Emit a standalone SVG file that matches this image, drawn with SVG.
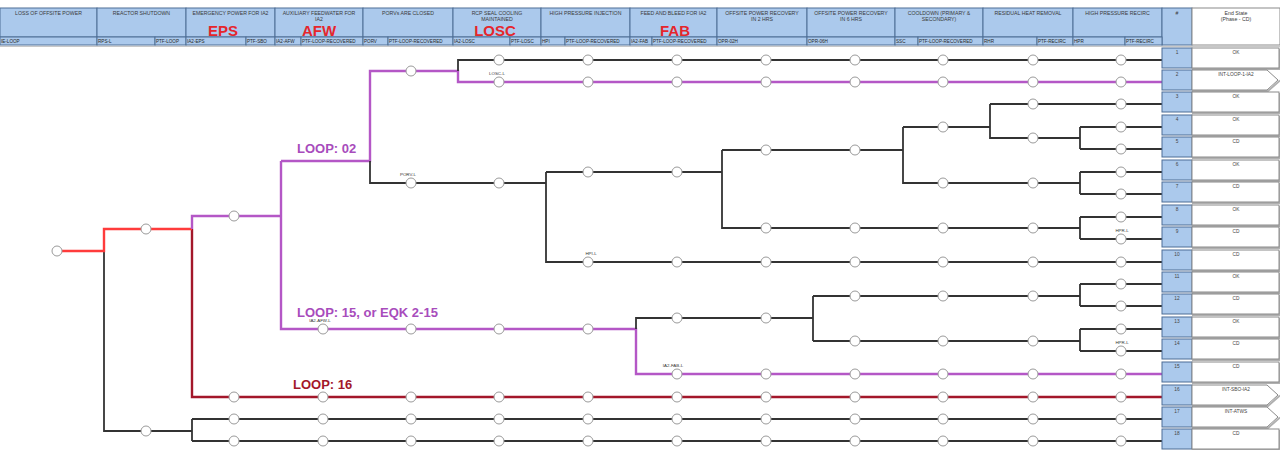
<svg xmlns="http://www.w3.org/2000/svg" width="1280" height="450" viewBox="0 0 1280 450">
<style>
.hd{fill:#abc9ec;stroke:#4f6f96;stroke-width:1}
.ht{font-family:"Liberation Sans",Arial,sans-serif;font-size:5.2px;fill:#3a3a3a;text-anchor:middle}
.hs{font-family:"Liberation Sans",Arial,sans-serif;font-size:4.6px;fill:#2a2a2a}
.big{font-family:"Liberation Sans",Arial,sans-serif;font-size:15px;font-weight:bold;fill:#e5262c;text-anchor:middle}
.k{fill:none;stroke:#333;stroke-width:1.8}
.r{fill:none;stroke:#ff3b3b;stroke-width:2.4}
.m{fill:none;stroke:#b457c6;stroke-width:2.4}
.d{fill:none;stroke:#a3172a;stroke-width:2.4}
.n{fill:#fff;stroke:#9a9a9a;stroke-width:1}
.lb{font-family:"Liberation Sans",Arial,sans-serif;font-size:4.4px;fill:#333;text-anchor:middle}
.lm{font-family:"Liberation Sans",Arial,sans-serif;font-size:13px;font-weight:bold;fill:#a84cbc}
.ld{font-family:"Liberation Sans",Arial,sans-serif;font-size:13px;font-weight:bold;fill:#a3172a}
.nb{fill:#abc9ec;stroke:#4d6d95;stroke-width:1}
.eb{fill:#fff;stroke:#8a8a8a;stroke-width:1}
.sh{fill:none;stroke:#b0b0b0;stroke-width:2}
.et{font-family:"Liberation Sans",Arial,sans-serif;font-size:4.8px;fill:#444;text-anchor:middle}
</style>
<g id="header">
<rect class="hd" x="0" y="8" width="97" height="29"/>
<rect class="hd" x="97" y="8" width="89" height="29"/>
<rect class="hd" x="186" y="8" width="89" height="29"/>
<rect class="hd" x="275" y="8" width="88" height="29"/>
<rect class="hd" x="363" y="8" width="90" height="29"/>
<rect class="hd" x="453" y="8" width="88" height="29"/>
<rect class="hd" x="541" y="8" width="89" height="29"/>
<rect class="hd" x="630" y="8" width="87" height="29"/>
<rect class="hd" x="717" y="8" width="90" height="29"/>
<rect class="hd" x="807" y="8" width="88" height="29"/>
<rect class="hd" x="895" y="8" width="88" height="29"/>
<rect class="hd" x="983" y="8" width="90" height="29"/>
<rect class="hd" x="1073" y="8" width="89" height="29"/>
<rect class="hd" x="1162" y="8" width="30" height="37"/>
<rect class="eb" x="1192" y="8" width="88" height="37"/>
<rect class="hd" x="0" y="37" width="97" height="8"/>
<rect class="hd" x="97" y="37" width="58" height="8"/>
<rect class="hd" x="155" y="37" width="31" height="8"/>
<rect class="hd" x="186" y="37" width="60" height="8"/>
<rect class="hd" x="246" y="37" width="29" height="8"/>
<rect class="hd" x="275" y="37" width="26" height="8"/>
<rect class="hd" x="301" y="37" width="62" height="8"/>
<rect class="hd" x="363" y="37" width="25" height="8"/>
<rect class="hd" x="388" y="37" width="65" height="8"/>
<rect class="hd" x="453" y="37" width="57" height="8"/>
<rect class="hd" x="510" y="37" width="31" height="8"/>
<rect class="hd" x="541" y="37" width="24" height="8"/>
<rect class="hd" x="565" y="37" width="65" height="8"/>
<rect class="hd" x="630" y="37" width="22" height="8"/>
<rect class="hd" x="652" y="37" width="65" height="8"/>
<rect class="hd" x="717" y="37" width="90" height="8"/>
<rect class="hd" x="807" y="37" width="88" height="8"/>
<rect class="hd" x="895" y="37" width="23" height="8"/>
<rect class="hd" x="918" y="37" width="65" height="8"/>
<rect class="hd" x="983" y="37" width="54" height="8"/>
<rect class="hd" x="1037" y="37" width="36" height="8"/>
<rect class="hd" x="1073" y="37" width="52" height="8"/>
<rect class="hd" x="1125" y="37" width="37" height="8"/>
<line x1="0" y1="46.5" x2="1280" y2="46.5" stroke="#c8c8c8" stroke-width="1"/>
<text class="ht" x="48.5" y="14.5">LOSS OF OFFSITE POWER</text>
<text class="ht" x="141.5" y="14.5">REACTOR SHUTDOWN</text>
<text class="ht" x="230.5" y="14.5">EMERGENCY POWER FOR IA2</text>
<text class="ht" x="319" y="14.5">AUXILIARY FEEDWATER FOR</text>
<text class="ht" x="319" y="20.5">IA2</text>
<text class="ht" x="408" y="14.5">PORVs ARE CLOSED</text>
<text class="ht" x="497" y="14.5">RCP SEAL COOLING</text>
<text class="ht" x="497" y="20.5">MAINTAINED</text>
<text class="ht" x="585.5" y="14.5">HIGH PRESSURE INJECTION</text>
<text class="ht" x="673.5" y="14.5">FEED AND BLEED FOR IA2</text>
<text class="ht" x="762" y="14.5">OFFSITE POWER RECOVERY</text>
<text class="ht" x="762" y="20.5">IN 2 HRS</text>
<text class="ht" x="851" y="14.5">OFFSITE POWER RECOVERY</text>
<text class="ht" x="851" y="20.5">IN 6 HRS</text>
<text class="ht" x="939" y="14.5">COOLDOWN (PRIMARY &amp;</text>
<text class="ht" x="939" y="20.5">SECONDARY)</text>
<text class="ht" x="1028" y="14.5">RESIDUAL HEAT REMOVAL</text>
<text class="ht" x="1117.5" y="14.5">HIGH PRESSURE RECIRC</text>
<text class="ht" x="1177" y="14.5">#</text>
<text class="ht" x="1236" y="14.5">End State</text>
<text class="ht" x="1236" y="20.5">(Phase - CD)</text>
<text class="big" x="223" y="36">EPS</text>
<text class="big" x="319" y="36">AFW</text>
<text class="big" x="495" y="36">LOSC</text>
<text class="big" x="675" y="36">FAB</text>
<text class="hs" x="1" y="43">IE-LOOP</text>
<text class="hs" x="98" y="43">RPS-L</text>
<text class="hs" x="156" y="43">PTF-LOOP</text>
<text class="hs" x="187" y="43">IA2-EPS</text>
<text class="hs" x="247" y="43">PTF-SBO</text>
<text class="hs" x="276" y="43">IA2-AFW</text>
<text class="hs" x="302" y="43">PTF-LOOP-RECOVERED</text>
<text class="hs" x="364" y="43">PORV</text>
<text class="hs" x="389" y="43">PTF-LOOP-RECOVERED</text>
<text class="hs" x="454" y="43">IA2-LOSC</text>
<text class="hs" x="511" y="43">PTF-LOSC</text>
<text class="hs" x="542" y="43">HPI</text>
<text class="hs" x="566" y="43">PTF-LOOP-RECOVERED</text>
<text class="hs" x="631" y="43">IA2-FAB</text>
<text class="hs" x="653" y="43">PTF-LOOP-RECOVERED</text>
<text class="hs" x="718" y="43">OPR-02H</text>
<text class="hs" x="808" y="43">OPR-06H</text>
<text class="hs" x="896" y="43">SSC</text>
<text class="hs" x="919" y="43">PTF-LOOP-RECOVERED</text>
<text class="hs" x="984" y="43">RHR</text>
<text class="hs" x="1038" y="43">PTF-RECIRC</text>
<text class="hs" x="1074" y="43">HPR</text>
<text class="hs" x="1126" y="43">PTF-RECIRC</text>
</g>
<g id="connectors">
<path class="k" d="M104 251V431H192M192 419V441M192 419H1162M192 441H1162"/>
<path class="d" d="M192 229V397H1162"/>
<path class="r" d="M62 251H104V229H192"/>
<path class="m" d="M192 229V216H281M281 161V329H636V374H1162M281 161H370V71H458V82H1162"/>
<path class="k" d="M370 161V183H546M458 71V60H1162M546 172V262H1162M546 172H722M722 150V228H1080M722 150H903M903 127V183H1080M903 127H990M990 104V138H1080M990 104H1162M1080 127V149M1080 127H1162M1080 149H1162M1080 172V194M1080 172H1162M1080 194H1162M1080 217V239M1080 217H1162M1080 239H1162"/>
<path class="k" d="M636 329V318H813M813 296V341M813 296H1080M813 341H1080M1080 284V306M1080 284H1162M1080 306H1162M1080 329V351M1080 329H1162M1080 351H1162"/>
</g>
<g id="node-IE"><circle class="n" cx="57" cy="251" r="5"/></g>
<g id="node-RPS"><circle class="n" cx="146" cy="229" r="5"/><circle class="n" cx="146" cy="431" r="5"/></g>
<g id="node-EPS"><circle class="n" cx="234" cy="216" r="5"/><circle class="n" cx="234" cy="397" r="5"/><circle class="n" cx="234" cy="419" r="5"/><circle class="n" cx="234" cy="441" r="5"/></g>
<g id="node-AFW"><circle class="n" cx="323" cy="329" r="5"/><circle class="n" cx="323" cy="397" r="5"/><circle class="n" cx="323" cy="419" r="5"/><circle class="n" cx="323" cy="441" r="5"/><text class="lb" x="320" y="322">IA2-AFW-L</text></g>
<g id="node-PORV"><circle class="n" cx="411" cy="71" r="5"/><circle class="n" cx="411" cy="183" r="5"/><circle class="n" cx="411" cy="329" r="5"/><circle class="n" cx="411" cy="397" r="5"/><circle class="n" cx="411" cy="419" r="5"/><circle class="n" cx="411" cy="441" r="5"/><text class="lb" x="408" y="176">PORV-L</text></g>
<g id="node-LOSC"><circle class="n" cx="499" cy="60" r="5"/><circle class="n" cx="499" cy="82" r="5"/><circle class="n" cx="499" cy="183" r="5"/><circle class="n" cx="499" cy="329" r="5"/><circle class="n" cx="499" cy="397" r="5"/><circle class="n" cx="499" cy="419" r="5"/><circle class="n" cx="499" cy="441" r="5"/><text class="lb" x="497" y="75">LOSC-L</text></g>
<g id="node-HPI"><circle class="n" cx="588" cy="60" r="5"/><circle class="n" cx="588" cy="82" r="5"/><circle class="n" cx="588" cy="172" r="5"/><circle class="n" cx="588" cy="262" r="5"/><circle class="n" cx="588" cy="329" r="5"/><circle class="n" cx="588" cy="397" r="5"/><circle class="n" cx="588" cy="419" r="5"/><circle class="n" cx="588" cy="441" r="5"/><text class="lb" x="591" y="255">HPI-L</text></g>
<g id="node-FAB"><circle class="n" cx="677" cy="60" r="5"/><circle class="n" cx="677" cy="82" r="5"/><circle class="n" cx="677" cy="172" r="5"/><circle class="n" cx="677" cy="262" r="5"/><circle class="n" cx="677" cy="318" r="5"/><circle class="n" cx="677" cy="374" r="5"/><circle class="n" cx="677" cy="397" r="5"/><circle class="n" cx="677" cy="419" r="5"/><circle class="n" cx="677" cy="441" r="5"/><text class="lb" x="673" y="367">IA2-FAB-L</text></g>
<g id="node-OPR02H"><circle class="n" cx="766" cy="60" r="5"/><circle class="n" cx="766" cy="82" r="5"/><circle class="n" cx="766" cy="150" r="5"/><circle class="n" cx="766" cy="228" r="5"/><circle class="n" cx="766" cy="262" r="5"/><circle class="n" cx="766" cy="318" r="5"/><circle class="n" cx="766" cy="374" r="5"/><circle class="n" cx="766" cy="397" r="5"/><circle class="n" cx="766" cy="419" r="5"/><circle class="n" cx="766" cy="441" r="5"/></g>
<g id="node-OPR06H"><circle class="n" cx="855" cy="60" r="5"/><circle class="n" cx="855" cy="82" r="5"/><circle class="n" cx="855" cy="150" r="5"/><circle class="n" cx="855" cy="228" r="5"/><circle class="n" cx="855" cy="262" r="5"/><circle class="n" cx="855" cy="296" r="5"/><circle class="n" cx="855" cy="341" r="5"/><circle class="n" cx="855" cy="374" r="5"/><circle class="n" cx="855" cy="397" r="5"/><circle class="n" cx="855" cy="419" r="5"/><circle class="n" cx="855" cy="441" r="5"/></g>
<g id="node-SSC"><circle class="n" cx="943" cy="60" r="5"/><circle class="n" cx="943" cy="82" r="5"/><circle class="n" cx="943" cy="127" r="5"/><circle class="n" cx="943" cy="183" r="5"/><circle class="n" cx="943" cy="228" r="5"/><circle class="n" cx="943" cy="262" r="5"/><circle class="n" cx="943" cy="296" r="5"/><circle class="n" cx="943" cy="341" r="5"/><circle class="n" cx="943" cy="374" r="5"/><circle class="n" cx="943" cy="397" r="5"/><circle class="n" cx="943" cy="419" r="5"/><circle class="n" cx="943" cy="441" r="5"/></g>
<g id="node-RHR"><circle class="n" cx="1033" cy="60" r="5"/><circle class="n" cx="1033" cy="82" r="5"/><circle class="n" cx="1033" cy="104" r="5"/><circle class="n" cx="1033" cy="138" r="5"/><circle class="n" cx="1033" cy="183" r="5"/><circle class="n" cx="1033" cy="228" r="5"/><circle class="n" cx="1033" cy="262" r="5"/><circle class="n" cx="1033" cy="296" r="5"/><circle class="n" cx="1033" cy="341" r="5"/><circle class="n" cx="1033" cy="374" r="5"/><circle class="n" cx="1033" cy="397" r="5"/><circle class="n" cx="1033" cy="419" r="5"/><circle class="n" cx="1033" cy="441" r="5"/></g>
<g id="node-HPR"><circle class="n" cx="1121" cy="60" r="5"/><circle class="n" cx="1121" cy="82" r="5"/><circle class="n" cx="1121" cy="104" r="5"/><circle class="n" cx="1121" cy="127" r="5"/><circle class="n" cx="1121" cy="149" r="5"/><circle class="n" cx="1121" cy="172" r="5"/><circle class="n" cx="1121" cy="194" r="5"/><circle class="n" cx="1121" cy="217" r="5"/><circle class="n" cx="1121" cy="239" r="5"/><circle class="n" cx="1121" cy="262" r="5"/><circle class="n" cx="1121" cy="284" r="5"/><circle class="n" cx="1121" cy="306" r="5"/><circle class="n" cx="1121" cy="329" r="5"/><circle class="n" cx="1121" cy="351" r="5"/><circle class="n" cx="1121" cy="374" r="5"/><circle class="n" cx="1121" cy="397" r="5"/><circle class="n" cx="1121" cy="419" r="5"/><circle class="n" cx="1121" cy="441" r="5"/><text class="lb" x="1122" y="232">HPR-L</text><text class="lb" x="1122" y="344">HPR-L</text></g>
<g id="loop-labels">
<text class="lm" x="297" y="153">LOOP: 02</text>
<text class="lm" x="297" y="317">LOOP: 15, or EQK 2-15</text>
<text class="ld" x="293" y="389">LOOP: 16</text>
</g>
<g id="es-1"><rect class="nb" x="1162" y="48" width="30" height="20"/><path class="sh" d="M1192 69H1279V49"/><rect class="eb" x="1192" y="48" width="87" height="20"/><text class="et" x="1177" y="54">1</text><text class="et" x="1236" y="54">OK</text></g>
<g id="es-2"><rect class="nb" x="1162" y="70" width="30" height="20"/><path class="sh" d="M1192 91H1268L1280 80.5"/><path class="eb" d="M1192 70H1267L1278 80L1267 90H1192Z"/><text class="et" x="1177" y="76">2</text><text class="et" x="1236" y="76">INT-LOOP-1-IA2</text></g>
<g id="es-3"><rect class="nb" x="1162" y="92" width="30" height="20"/><path class="sh" d="M1192 113H1279V93"/><rect class="eb" x="1192" y="92" width="87" height="20"/><text class="et" x="1177" y="98">3</text><text class="et" x="1236" y="98">OK</text></g>
<g id="es-4"><rect class="nb" x="1162" y="115" width="30" height="20"/><path class="sh" d="M1192 136H1279V116"/><rect class="eb" x="1192" y="115" width="87" height="20"/><text class="et" x="1177" y="121">4</text><text class="et" x="1236" y="121">OK</text></g>
<g id="es-5"><rect class="nb" x="1162" y="137" width="30" height="20"/><path class="sh" d="M1192 158H1279V138"/><rect class="eb" x="1192" y="137" width="87" height="20"/><text class="et" x="1177" y="143">5</text><text class="et" x="1236" y="143">CD</text></g>
<g id="es-6"><rect class="nb" x="1162" y="160" width="30" height="20"/><path class="sh" d="M1192 181H1279V161"/><rect class="eb" x="1192" y="160" width="87" height="20"/><text class="et" x="1177" y="166">6</text><text class="et" x="1236" y="166">OK</text></g>
<g id="es-7"><rect class="nb" x="1162" y="182" width="30" height="20"/><path class="sh" d="M1192 203H1279V183"/><rect class="eb" x="1192" y="182" width="87" height="20"/><text class="et" x="1177" y="188">7</text><text class="et" x="1236" y="188">CD</text></g>
<g id="es-8"><rect class="nb" x="1162" y="205" width="30" height="20"/><path class="sh" d="M1192 226H1279V206"/><rect class="eb" x="1192" y="205" width="87" height="20"/><text class="et" x="1177" y="211">8</text><text class="et" x="1236" y="211">OK</text></g>
<g id="es-9"><rect class="nb" x="1162" y="227" width="30" height="20"/><path class="sh" d="M1192 248H1279V228"/><rect class="eb" x="1192" y="227" width="87" height="20"/><text class="et" x="1177" y="233">9</text><text class="et" x="1236" y="233">CD</text></g>
<g id="es-10"><rect class="nb" x="1162" y="250" width="30" height="20"/><path class="sh" d="M1192 271H1279V251"/><rect class="eb" x="1192" y="250" width="87" height="20"/><text class="et" x="1177" y="256">10</text><text class="et" x="1236" y="256">CD</text></g>
<g id="es-11"><rect class="nb" x="1162" y="272" width="30" height="20"/><path class="sh" d="M1192 293H1279V273"/><rect class="eb" x="1192" y="272" width="87" height="20"/><text class="et" x="1177" y="278">11</text><text class="et" x="1236" y="278">OK</text></g>
<g id="es-12"><rect class="nb" x="1162" y="294" width="30" height="20"/><path class="sh" d="M1192 315H1279V295"/><rect class="eb" x="1192" y="294" width="87" height="20"/><text class="et" x="1177" y="300">12</text><text class="et" x="1236" y="300">CD</text></g>
<g id="es-13"><rect class="nb" x="1162" y="317" width="30" height="20"/><path class="sh" d="M1192 338H1279V318"/><rect class="eb" x="1192" y="317" width="87" height="20"/><text class="et" x="1177" y="323">13</text><text class="et" x="1236" y="323">OK</text></g>
<g id="es-14"><rect class="nb" x="1162" y="339" width="30" height="20"/><path class="sh" d="M1192 360H1279V340"/><rect class="eb" x="1192" y="339" width="87" height="20"/><text class="et" x="1177" y="345">14</text><text class="et" x="1236" y="345">CD</text></g>
<g id="es-15"><rect class="nb" x="1162" y="362" width="30" height="20"/><path class="sh" d="M1192 383H1279V363"/><rect class="eb" x="1192" y="362" width="87" height="20"/><text class="et" x="1177" y="368">15</text><text class="et" x="1236" y="368">CD</text></g>
<g id="es-16"><rect class="nb" x="1162" y="385" width="30" height="20"/><path class="sh" d="M1192 406H1268L1280 395.5"/><path class="eb" d="M1192 385H1267L1278 395L1267 405H1192Z"/><text class="et" x="1177" y="391">16</text><text class="et" x="1236" y="391">INT-SBO-IA2</text></g>
<g id="es-17"><rect class="nb" x="1162" y="407" width="30" height="20"/><path class="sh" d="M1192 428H1268L1280 417.5"/><path class="eb" d="M1192 407H1267L1278 417L1267 427H1192Z"/><text class="et" x="1177" y="413">17</text><text class="et" x="1236" y="413">INT-ATWS</text></g>
<g id="es-18"><rect class="nb" x="1162" y="429" width="30" height="20"/><path class="sh" d="M1192 450H1279V430"/><rect class="eb" x="1192" y="429" width="87" height="20"/><text class="et" x="1177" y="435">18</text><text class="et" x="1236" y="435">CD</text></g>
</svg>
